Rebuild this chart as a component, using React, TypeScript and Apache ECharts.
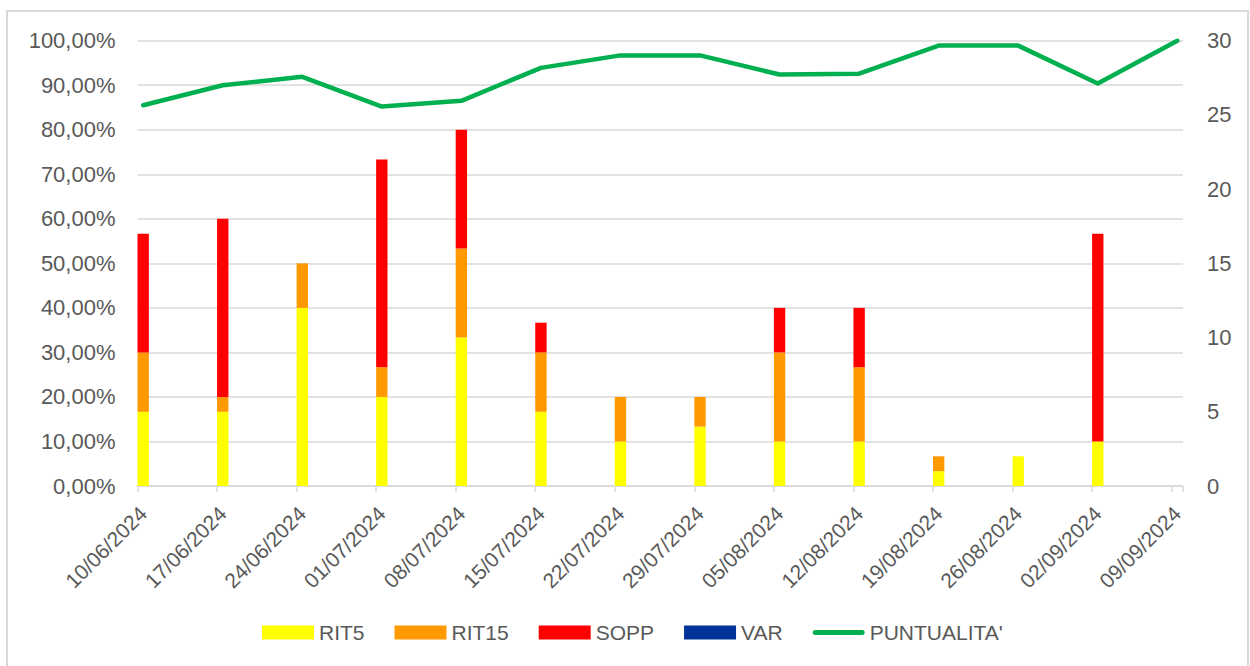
import React, { useEffect, useRef } from "react";
import * as echarts from "echarts";

const dates = [
  "10/06/2024", "17/06/2024", "24/06/2024", "01/07/2024", "08/07/2024",
  "15/07/2024", "22/07/2024", "29/07/2024", "05/08/2024", "12/08/2024",
  "19/08/2024", "26/08/2024", "02/09/2024", "09/09/2024",
];
const rit5 = [5, 5, 12, 6, 10, 5, 3, 4, 3, 3, 1, 2, 3, 0];
const rit15 = [4, 1, 3, 2, 6, 4, 3, 2, 6, 5, 1, 0, 0, 0];
const sopp = [8, 12, 0, 14, 8, 2, 0, 0, 3, 4, 0, 0, 14, 0];
const varValues = [0, 0, 0, 0, 0, 0, 0, 0, 0, 0, 0, 0, 0, 0];
const puntualita = [85.5, 90.0, 91.9, 85.2, 86.5, 93.9, 96.7, 96.7, 92.4, 92.6, 98.9, 98.9, 90.4, 100];

const leftAxis = { min: 0, max: 100, interval: 10 };
const rightAxis = { min: 0, max: 30, interval: 5 };

const FONT = "'Liberation Sans', Arial, sans-serif";
const TEXT = "#595959";
const GRID = "#d9d9d9";

// Excel-style date axis: one category per calendar day
function toUTC(s: string) {
  const [d, m, y] = s.split("/").map(Number);
  return Date.UTC(y, m - 1, d);
}
function fmt(t: number) {
  const dt = new Date(t);
  const p = (n: number) => String(n).padStart(2, "0");
  return `${p(dt.getUTCDate())}/${p(dt.getUTCMonth() + 1)}/${dt.getUTCFullYear()}`;
}
const day0 = toUTC(dates[0]);
const dayIdx = dates.map((s) => Math.round((toUTC(s) - day0) / 86400000));
const nDays = dayIdx[dayIdx.length - 1] + 1;
const dayCategories = Array.from({ length: nDays }, (_, i) => fmt(day0 + i * 86400000));
const spread = (vals: number[]) => {
  const out: (number | null)[] = new Array(nDays).fill(null);
  dayIdx.forEach((d, i) => (out[d] = vals[i]));
  return out;
};

export default function App() {
  const ref = useRef<HTMLDivElement>(null);
  useEffect(() => {
    if (!ref.current) return;
    const chart = echarts.init(ref.current, undefined, { renderer: "svg" });
    const barSeries = (name: string, vals: number[], color: string) => ({
      name,
      type: "bar",
      stack: "total",
      yAxisIndex: 1,
      barCategoryGap: "0%",
      itemStyle: { color },
      data: spread(vals),
    });
    chart.setOption({
      animation: false,
      backgroundColor: "#ffffff",
      textStyle: { fontFamily: FONT },
      grid: { left: 137.5, right: 67, top: 40.7, bottom: 180 },
      graphic: [
        {
          type: "rect",
          silent: true,
          shape: { x: 7, y: 11, width: 1241, height: 720 },
          style: { fill: "transparent", stroke: GRID, lineWidth: 2 },
        },
      ],
      legend: {
        left: 262,
        top: 622,
        padding: 0,
        itemWidth: 52,
        itemHeight: 14,
        itemGap: 30,
        textStyle: { fontSize: 21, color: TEXT, fontFamily: FONT },
        data: [
          { name: "RIT5", icon: "rect" },
          { name: "RIT15", icon: "rect" },
          { name: "SOPP", icon: "rect" },
          { name: "VAR", icon: "rect" },
          {
            name: "PUNTUALITA'",
            icon: "path://M2.5,0 L49.5,0 A2.5,2.5 0 0 1 49.5,5 L2.5,5 A2.5,2.5 0 0 1 2.5,0 Z",
            itemStyle: { color: "#00B050", borderWidth: 0 },
          },
        ],
      },
      xAxis: {
        type: "category",
        data: dayCategories,
        boundaryGap: true,
        axisLine: { show: true, lineStyle: { color: GRID, width: 1.5 } },
        axisTick: { show: true, interval: 6, length: 6, lineStyle: { color: GRID, width: 1.5 } },
        splitLine: { show: false },
        axisLabel: {
          interval: 6,
          rotate: 45,
          margin: 24,
          fontSize: 21,
          color: TEXT,
          fontFamily: FONT,
        },
      },
      yAxis: [
        {
          type: "value",
          ...leftAxis,
          axisLine: { show: false },
          axisTick: { show: false },
          splitLine: { show: true, lineStyle: { color: GRID, width: 1.5 } },
          axisLabel: {
            margin: 22,
            fontSize: 22,
            color: TEXT,
            fontFamily: FONT,
            formatter: (v: number) => v.toFixed(2).replace(".", ",") + "%",
          },
        },
        {
          type: "value",
          ...rightAxis,
          axisLine: { show: false },
          axisTick: { show: false },
          splitLine: { show: false },
          axisLabel: { margin: 24, fontSize: 22, color: TEXT, fontFamily: FONT },
        },
      ],
      series: [
        barSeries("RIT5", rit5, "#FFFF00"),
        barSeries("RIT15", rit15, "#FF9900"),
        barSeries("SOPP", sopp, "#FF0000"),
        barSeries("VAR", varValues, "#003399"),
        {
          name: "PUNTUALITA'",
          type: "line",
          yAxisIndex: 0,
          symbol: "none",
          connectNulls: true,
          z: 5,
          lineStyle: { color: "#00B050", width: 4.5, cap: "round", join: "round" },
          itemStyle: { color: "#00B050" },
          data: spread(puntualita),
        },
      ],
    });
    return () => chart.dispose();
  }, []);
  return (
    <div
      ref={ref}
      style={{ position: "fixed", left: 0, top: 0, width: 1250, height: 666, background: "#fff" }}
    />
  );
}
